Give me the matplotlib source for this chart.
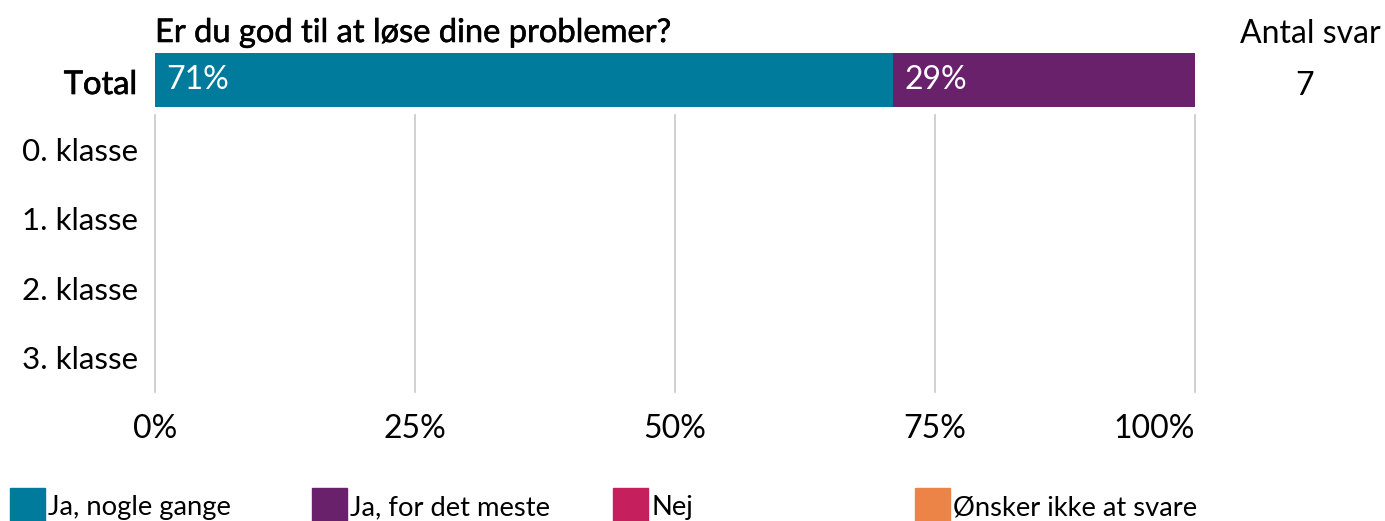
import matplotlib
matplotlib.use("Agg")
import matplotlib.pyplot as plt
import matplotlib.patheffects as pe
from matplotlib.patches import Rectangle

plt.rcParams['font.family'] = ['Lato', 'DejaVu Sans']

title = "Er du god til at løse dine problemer?"
total_label = "Total"
groups = ["0. klasse", "1. klasse", "2. klasse", "3. klasse"]
categories = ["Ja, nogle gange", "Ja, for det meste", "Nej", "Ønsker ikke at svare"]
colors = ["#007B9B", "#68216A", "#C51F5D", "#EC8447"]
total_values = [71, 29, 0, 0]
n_answers = 7
xticks = [0, 25, 50, 75, 100]
xticklabels = ["0%", "25%", "50%", "75%", "100%"]

W, H = 1385, 521
fig = plt.figure(figsize=(W / 100, H / 100), dpi=100)


def fx(px):
    return px / W


def fy(py):
    return 1 - py / H


# Total bar
ax_t = fig.add_axes([fx(155), fy(107), (1195 - 155) / W, (107 - 53) / H])
left = 0
for v, c in zip(total_values, colors):
    if v > 0:
        ax_t.barh(0, v, left=left, height=1, color=c)
        ax_t.text(left + 1.1, 0, f"{v}%", color="white", va="center",
                  ha="left", fontsize=23)
    left += v
ax_t.set_xlim(0, 100)
ax_t.set_ylim(-0.5, 0.5)
ax_t.axis('off')
fig.text(fx(137), fy(94), total_label, ha='right', va='baseline',
         fontsize=23.5,
         path_effects=[pe.withStroke(linewidth=0.5, foreground='black')])

# Group rows
ax = fig.add_axes([fx(155), fy(392), (1195 - 155) / W, (392 - 115) / H])
ax.set_xlim(0, 100)
ax.set_ylim(len(groups) - 0.5, -0.5)
ax.set_yticks(range(len(groups)))
ax.set_yticklabels(groups, fontsize=22.6)
ax.set_xticks(xticks)
ax.set_xticklabels(xticklabels, fontsize=23)
ax.get_xticklabels()[-1].set_horizontalalignment('right')
ax.tick_params(length=0)
ax.tick_params(axis='y', pad=12.5)
ax.tick_params(axis='x', pad=16)
for s in ax.spines.values():
    s.set_visible(False)
for xt in xticks:
    ax.axvline(xt, color='#c8c8c8', lw=1.2, clip_on=False)

# Titles
fig.text(fx(155), fy(42), title, ha='left', va='baseline', fontsize=23.5,
         path_effects=[pe.withStroke(linewidth=0.4, foreground='black')])
fig.text(fx(1310), fy(43), "Antal svar", ha='center', va='baseline', fontsize=23)
fig.text(fx(1305), fy(95), str(n_answers), ha='center', va='baseline', fontsize=23)

# Legend
for i, (cat, col) in enumerate(zip(categories, colors)):
    x0 = 10 + i * 301.7
    fig.patches.append(Rectangle((fx(x0), fy(530)), 35 / W, (530 - 488) / H,
                                 transform=fig.transFigure, color=col))
    fig.text(fx(x0 + 38), fy(508), cat, ha='left', va='center', fontsize=19.7)

fig.savefig("out.png", dpi=100)
